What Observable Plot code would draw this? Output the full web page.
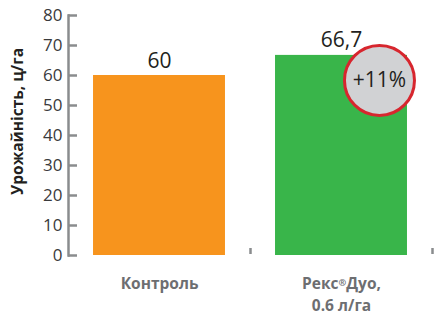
<!DOCTYPE html>
<html>
<head>
<meta charset="utf-8">
<script src="https://cdn.jsdelivr.net/npm/d3@7"></script>
<script src="https://cdn.jsdelivr.net/npm/@observablehq/plot@0.6"></script>
<style>
  html, body { margin: 0; padding: 0; background: #fff; }
  #chart svg { display: block; }
</style>
</head>
<body>
<div id="chart"></div>
<script>
// ---- data ----
const categories = ["Контроль", "Рекс®Дуо,\n0.6 л/га"];
const values = [60, 66.7];
const valueLabels = ["60", "66,7"];
const barColors = ["#f7941d", "#39b54a"];
const yTicks = [0, 10, 20, 30, 40, 50, 60, 70, 80];
const yLabel = "Урожайність, ц/га";
const badgeTexts = ["+11%"];
const badgeCategoryIndex = [1];

// ---- layout / style constants ----
const pad = 0.1375;
const font = "'Open Sans', sans-serif";
const axisGrey = "#8a8c8e";

const data = categories.map((c, i) => ({i, category: c, value: values[i], label: valueLabels[i], color: barColors[i]}));
const badges = badgeTexts.map((t, k) => ({text: t, i: badgeCategoryIndex[k], value: values[badgeCategoryIndex[k]]}));

const chart = Plot.plot({
  width: 448,
  height: 331,
  marginTop: 15,
  marginBottom: 76,
  marginLeft: 68,
  marginRight: 16,
  style: {fontFamily: font, background: "#fff", overflow: "visible"},
  x: {domain: [0, categories.length], axis: null},
  y: {domain: [0, 80], axis: null},
  marks: [
    Plot.rectY(data, {x1: d => d.i + pad, x2: d => d.i + 1 - pad, y: "value", fill: "color"}),
    Plot.frame({anchor: "left", stroke: axisGrey, strokeWidth: 2.5}),
    Plot.axisY({ticks: yTicks, tickSize: 9, insetLeft: 9, tickFormat: () => "", stroke: axisGrey, strokeWidth: 2.5, label: null}),
    Plot.axisY({ticks: yTicks, tickSize: 0, tickPadding: 6, fontSize: 17, fill: "#3a3a3c", label: null}),
    Plot.axisX({ticks: d3.range(1, categories.length + 1), tickSize: 6, insetBottom: 7, tickFormat: () => "", stroke: axisGrey, strokeWidth: 2.5, label: null}),
    Plot.axisX({ticks: categories.map((c, i) => i + 0.5), tickFormat: d => categories[Math.floor(d)], tickSize: 0, tickPadding: 18, fontSize: 15.5, fontWeight: "bold", fill: "#6d6e71", lineHeight: 1.4, lineAnchor: "top", label: null}),
    Plot.text(data, {x: d => d.i + 0.5, y: "value", text: "label", lineAnchor: "bottom", dy: -8, fontSize: 21, fill: "#231f20"}),
    Plot.dot(badges, {x: d => d.i + 1 - pad, y: "value", dx: -28, dy: 25, r: 35, fill: "#d1d2d4", stroke: "#d7262e", strokeWidth: 3}),
    Plot.text(badges, {x: d => d.i + 1 - pad, y: "value", text: "text", dx: -28, dy: 25, fontSize: 21, fill: "#231f20"}),
    Plot.text([yLabel], {frameAnchor: "left", rotate: -90, textAnchor: "middle", dx: -50, dy: -14, fontSize: 15.5, fontWeight: "bold", fill: "#231f20"})
  ]
});
// render the ® sign as a small raised mark, as in the original
d3.select(chart).selectAll("tspan, text").each(function() {
  const node = this;
  if (node.childNodes.length === 1 && node.firstChild.nodeType === 3 && node.textContent.includes("®")) {
    const parts = node.textContent.split("®");
    node.textContent = "";
    const sel = d3.select(node);
    sel.append("tspan").text(parts[0]);
    sel.append("tspan").attr("font-size", "0.6em").attr("baseline-shift", "35%").text("®");
    sel.append("tspan").attr("baseline-shift", "0").text(parts[1]);
  }
});
document.getElementById("chart").appendChild(chart);
</script>
</body>
</html>
